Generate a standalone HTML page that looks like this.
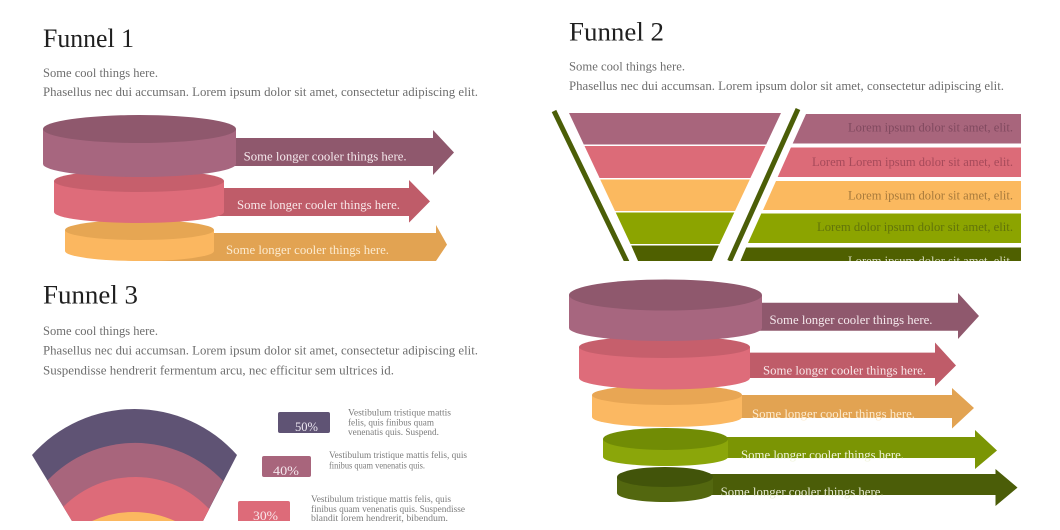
<!DOCTYPE html>
<html>
<head>
<meta charset="utf-8">
<style>
  html, body { margin: 0; padding: 0; background: #ffffff; width: 1060px; height: 530px; overflow: hidden; }
  svg { display: block; }
  text { font-family: "Liberation Serif", serif; }
</style>
</head>
<body>
<svg width="1060" height="530" viewBox="0 0 1060 530" xmlns="http://www.w3.org/2000/svg">
  <defs>
    <clipPath id="topclip"><rect x="0" y="0" width="1060" height="261"/></clipPath>
  </defs>
  <rect width="1060" height="530" fill="#ffffff"/>

  <!-- ============ FUNNEL 1 ============ -->
  <text x="43" y="47" font-size="26" fill="#1f1f1f" textLength="91" lengthAdjust="spacingAndGlyphs">Funnel 1</text>
  <text x="43" y="77" font-size="12.5" fill="#6e6e6e" textLength="115" lengthAdjust="spacingAndGlyphs">Some cool things here.</text>
  <text x="43" y="96" font-size="12.5" fill="#6e6e6e" textLength="435" lengthAdjust="spacingAndGlyphs">Phasellus nec dui accumsan. Lorem ipsum dolor sit amet, consectetur adipiscing elit.</text>

  <g clip-path="url(#topclip)">
    <!-- level 3 -->
    <path d="M139,233 L436,233 L436,225 L447,244.6 L436,261 L139,261 Z" fill="#e2a352"/>
    <path d="M65,230 L65,251 A74.5,10 0 0 0 214,251 L214,230 Z" fill="#fbb760"/>
    <ellipse cx="139.5" cy="230" rx="74.5" ry="10" fill="#e6a653"/>
    <text x="226" y="254" font-size="13" fill="#fcebd0" textLength="163" lengthAdjust="spacingAndGlyphs">Some longer cooler things here.</text>
    <!-- level 2 -->
    <path d="M139,188 L409,188 L409,180 L430,201.4 L409,222.6 L409,216 L139,216 Z" fill="#bf5c69"/>
    <path d="M54,181 L54,212 A85,11 0 0 0 224,212 L224,181 Z" fill="#de6c7a"/>
    <ellipse cx="139" cy="181" rx="85" ry="11" fill="#c65f6c"/>
    <text x="237" y="209" font-size="13" fill="#f8e6e8" textLength="163" lengthAdjust="spacingAndGlyphs">Some longer cooler things here.</text>
    <!-- level 1 -->
    <path d="M139,138 L433,138 L433,130 L454,152.5 L433,175 L433,166 L139,166 Z" fill="#8f586d"/>
    <path d="M43,129 L43,164 A96.5,13 0 0 0 236,164 L236,129 Z" fill="#a7667f"/>
    <ellipse cx="139.5" cy="129" rx="96.5" ry="14" fill="#8f586d"/>
    <text x="243.6" y="160.5" font-size="13" fill="#f4e8ec" textLength="163" lengthAdjust="spacingAndGlyphs">Some longer cooler things here.</text>
  </g>

  <!-- ============ FUNNEL 2 ============ -->
  <text x="569" y="40.5" font-size="26" fill="#1f1f1f" textLength="95" lengthAdjust="spacingAndGlyphs">Funnel 2</text>
  <text x="569" y="70.5" font-size="12.5" fill="#6e6e6e" textLength="116" lengthAdjust="spacingAndGlyphs">Some cool things here.</text>
  <text x="569" y="90" font-size="12.5" fill="#6e6e6e" textLength="435" lengthAdjust="spacingAndGlyphs">Phasellus nec dui accumsan. Lorem ipsum dolor sit amet, consectetur adipiscing elit.</text>

  <g clip-path="url(#topclip)">
    <line x1="554" y1="111" x2="627" y2="262" stroke="#4b5e07" stroke-width="5"/>
    <polygon points="569,113 781,113 766.2,144.5 583.8,144.5" fill="#a8657c"/>
    <polygon points="584.5,146 765.5,146 750.4,178 599.6,178" fill="#dc6b78"/>
    <polygon points="600.2,179.5 749.8,179.5 735,211 615,211" fill="#fbb95f"/>
    <polygon points="615.7,212.5 734.3,212.5 719.5,244 630.5,244" fill="#8ca400"/>
    <polygon points="631.2,245.5 718.8,245.5 711.5,262 638.5,262" fill="#4f6000"/>
    <line x1="798" y1="109" x2="729.6" y2="261" stroke="#4b5e07" stroke-width="5"/>
    <polygon points="806,114 1021,114 1021,143.5 792.7,143.5" fill="#a8657c"/>
    <polygon points="790.9,147.5 1021,147.5 1021,177 777.7,177" fill="#dc6b78"/>
    <polygon points="776,181 1021,181 1021,210 763,210" fill="#fbb95f"/>
    <polygon points="761.3,213.5 1021,213.5 1021,243 748,243" fill="#8ca400"/>
    <polygon points="746.1,247.5 1021,247.5 1021,262 740,262" fill="#4f6000"/>
    <text x="1013" y="131.5" font-size="12.5" fill="#80495f" text-anchor="end" textLength="165" lengthAdjust="spacingAndGlyphs">Lorem ipsum dolor sit amet, elit.</text>
    <text x="1013" y="166" font-size="12.5" fill="#a64a5a" text-anchor="end" textLength="201" lengthAdjust="spacingAndGlyphs">Lorem Lorem ipsum dolor sit amet, elit.</text>
    <text x="1013" y="199.5" font-size="12.5" fill="#a77a3c" text-anchor="end" textLength="165" lengthAdjust="spacingAndGlyphs">Lorem ipsum dolor sit amet, elit.</text>
    <text x="1013" y="231" font-size="12.5" fill="#62740a" text-anchor="end" textLength="196" lengthAdjust="spacingAndGlyphs">Lorem dolor ipsum dolor sit amet, elit.</text>
    <text x="1013" y="265" font-size="12.5" fill="#d8dcc0" text-anchor="end" textLength="165" lengthAdjust="spacingAndGlyphs">Lorem ipsum dolor sit amet, elit.</text>
  </g>

  <!-- ============ FUNNEL 3 ============ -->
  <text x="43" y="303.5" font-size="26" fill="#1f1f1f" textLength="95" lengthAdjust="spacingAndGlyphs">Funnel 3</text>
  <text x="43" y="335" font-size="12.5" fill="#6e6e6e" textLength="115" lengthAdjust="spacingAndGlyphs">Some cool things here.</text>
  <text x="43" y="354.5" font-size="12.5" fill="#6e6e6e" textLength="435" lengthAdjust="spacingAndGlyphs">Phasellus nec dui accumsan. Lorem ipsum dolor sit amet, consectetur adipiscing elit.</text>
  <text x="43" y="374.5" font-size="12.5" fill="#6e6e6e" textLength="351" lengthAdjust="spacingAndGlyphs">Suspendisse hendrerit fermentum arcu, nec efficitur sem ultrices id.</text>

  <!-- fan -->
  <path d="M32,455 A137.2,137.2 0 0 1 237,455 L203,521 L72,521 Z" fill="#5f5374"/>
  <path d="M47.5,480.5 A120.8,120.8 0 0 1 223.1,481 L203,521 L72,521 Z" fill="#a8657c"/>
  <path d="M63.3,506.7 A101.5,101.5 0 0 1 209.2,509.1 L203,521 L72,521 Z" fill="#dd6b79"/>
  <path d="M92,521 A100,100 0 0 1 175,521 Z" fill="#fbb860"/>

  <rect x="278" y="412" width="52" height="21" rx="2" fill="#5f5374"/>
  <text x="295" y="431" font-size="13" fill="#ece6f0" textLength="23" lengthAdjust="spacingAndGlyphs">50%</text>
  <rect x="262" y="456" width="49" height="21" rx="2" fill="#a8657c"/>
  <text x="273" y="475" font-size="13" fill="#f4e6ec" textLength="26" lengthAdjust="spacingAndGlyphs">40%</text>
  <path d="M240,501 L288,501 Q290,501 290,503 L290,521 L238,521 L238,503 Q238,501 240,501 Z" fill="#dd6b79"/>
  <text x="253" y="520" font-size="13" fill="#f8e6ea" textLength="25" lengthAdjust="spacingAndGlyphs">30%</text>

  <g font-size="9" fill="#7c7c7c">
    <text x="348" y="415.5" textLength="103" lengthAdjust="spacingAndGlyphs">Vestibulum tristique mattis</text>
    <text x="348" y="425.5" textLength="86" lengthAdjust="spacingAndGlyphs">felis, quis finibus quam</text>
    <text x="348" y="435" textLength="91" lengthAdjust="spacingAndGlyphs">venenatis quis. Suspend.</text>

    <text x="329" y="458" textLength="138" lengthAdjust="spacingAndGlyphs">Vestibulum tristique mattis felis, quis</text>
    <text x="329" y="468.5" textLength="96" lengthAdjust="spacingAndGlyphs">finibus quam venenatis quis.</text>

    <text x="311" y="502" textLength="140" lengthAdjust="spacingAndGlyphs">Vestibulum tristique mattis felis, quis</text>
    <text x="311" y="512" textLength="154" lengthAdjust="spacingAndGlyphs">finibus quam venenatis quis. Suspendisse</text>
    <text x="311" y="521" textLength="137" lengthAdjust="spacingAndGlyphs">blandit lorem hendrerit, bibendum.</text>
  </g>

  <!-- ============ FUNNEL 4 ============ -->
  <path d="M665,474 L995.5,474 L995.5,469 L1017.5,487.6 L995.5,506 L995.5,495 L665,495 Z" fill="#4b5d08"/>
  <path d="M617,477 L617,493 A48,9 0 0 0 713,493 L713,477 Z" fill="#53670f"/>
  <ellipse cx="665" cy="477" rx="48" ry="10" fill="#42540a"/>
  <text x="720.6" y="496" font-size="13" fill="#e8ecd4" textLength="163" lengthAdjust="spacingAndGlyphs">Some longer cooler things here.</text>

  <path d="M665,437 L975,437 L975,430 L997,450.5 L975,469 L975,458 L665,458 Z" fill="#7b9504"/>
  <path d="M603,439 L603,457 A62.5,9 0 0 0 728,457 L728,439 Z" fill="#8ba60a"/>
  <ellipse cx="665.5" cy="439" rx="62.5" ry="11" fill="#718c05"/>
  <text x="741" y="459" font-size="13" fill="#f0f4dc" textLength="163" lengthAdjust="spacingAndGlyphs">Some longer cooler things here.</text>

  <path d="M667,395 L952,395 L952,388 L974,408 L952,428.5 L952,418 L667,418 Z" fill="#e2a352"/>
  <path d="M592,395 L592,417 A75,10 0 0 0 742,417 L742,395 Z" fill="#fbb862"/>
  <ellipse cx="667" cy="395" rx="75" ry="10" fill="#e8a654"/>
  <text x="752" y="418" font-size="13" fill="#fcebd0" textLength="163" lengthAdjust="spacingAndGlyphs">Some longer cooler things here.</text>

  <path d="M665,352.6 L935,352.6 L935,342.5 L956,365.5 L935,386.4 L935,378 L665,378 Z" fill="#bf5c69"/>
  <path d="M579,347 L579,378 A85.5,11.5 0 0 0 750,378 L750,347 Z" fill="#de6c7a"/>
  <ellipse cx="664.5" cy="347" rx="85.5" ry="11" fill="#c65f6c"/>
  <text x="763" y="374.5" font-size="13" fill="#f8e6e8" textLength="163" lengthAdjust="spacingAndGlyphs">Some longer cooler things here.</text>

  <path d="M665,302.7 L958,302.7 L958,293 L979,316 L958,339 L958,330.7 L665,330.7 Z" fill="#8f586d"/>
  <path d="M569,295 L569,328 A96.5,13 0 0 0 762,328 L762,295 Z" fill="#a7667f"/>
  <ellipse cx="665.5" cy="295" rx="96.5" ry="15.5" fill="#8f586d"/>
  <text x="769.5" y="324" font-size="13" fill="#f4e8ec" textLength="163" lengthAdjust="spacingAndGlyphs">Some longer cooler things here.</text>
</svg>
</body>
</html>
